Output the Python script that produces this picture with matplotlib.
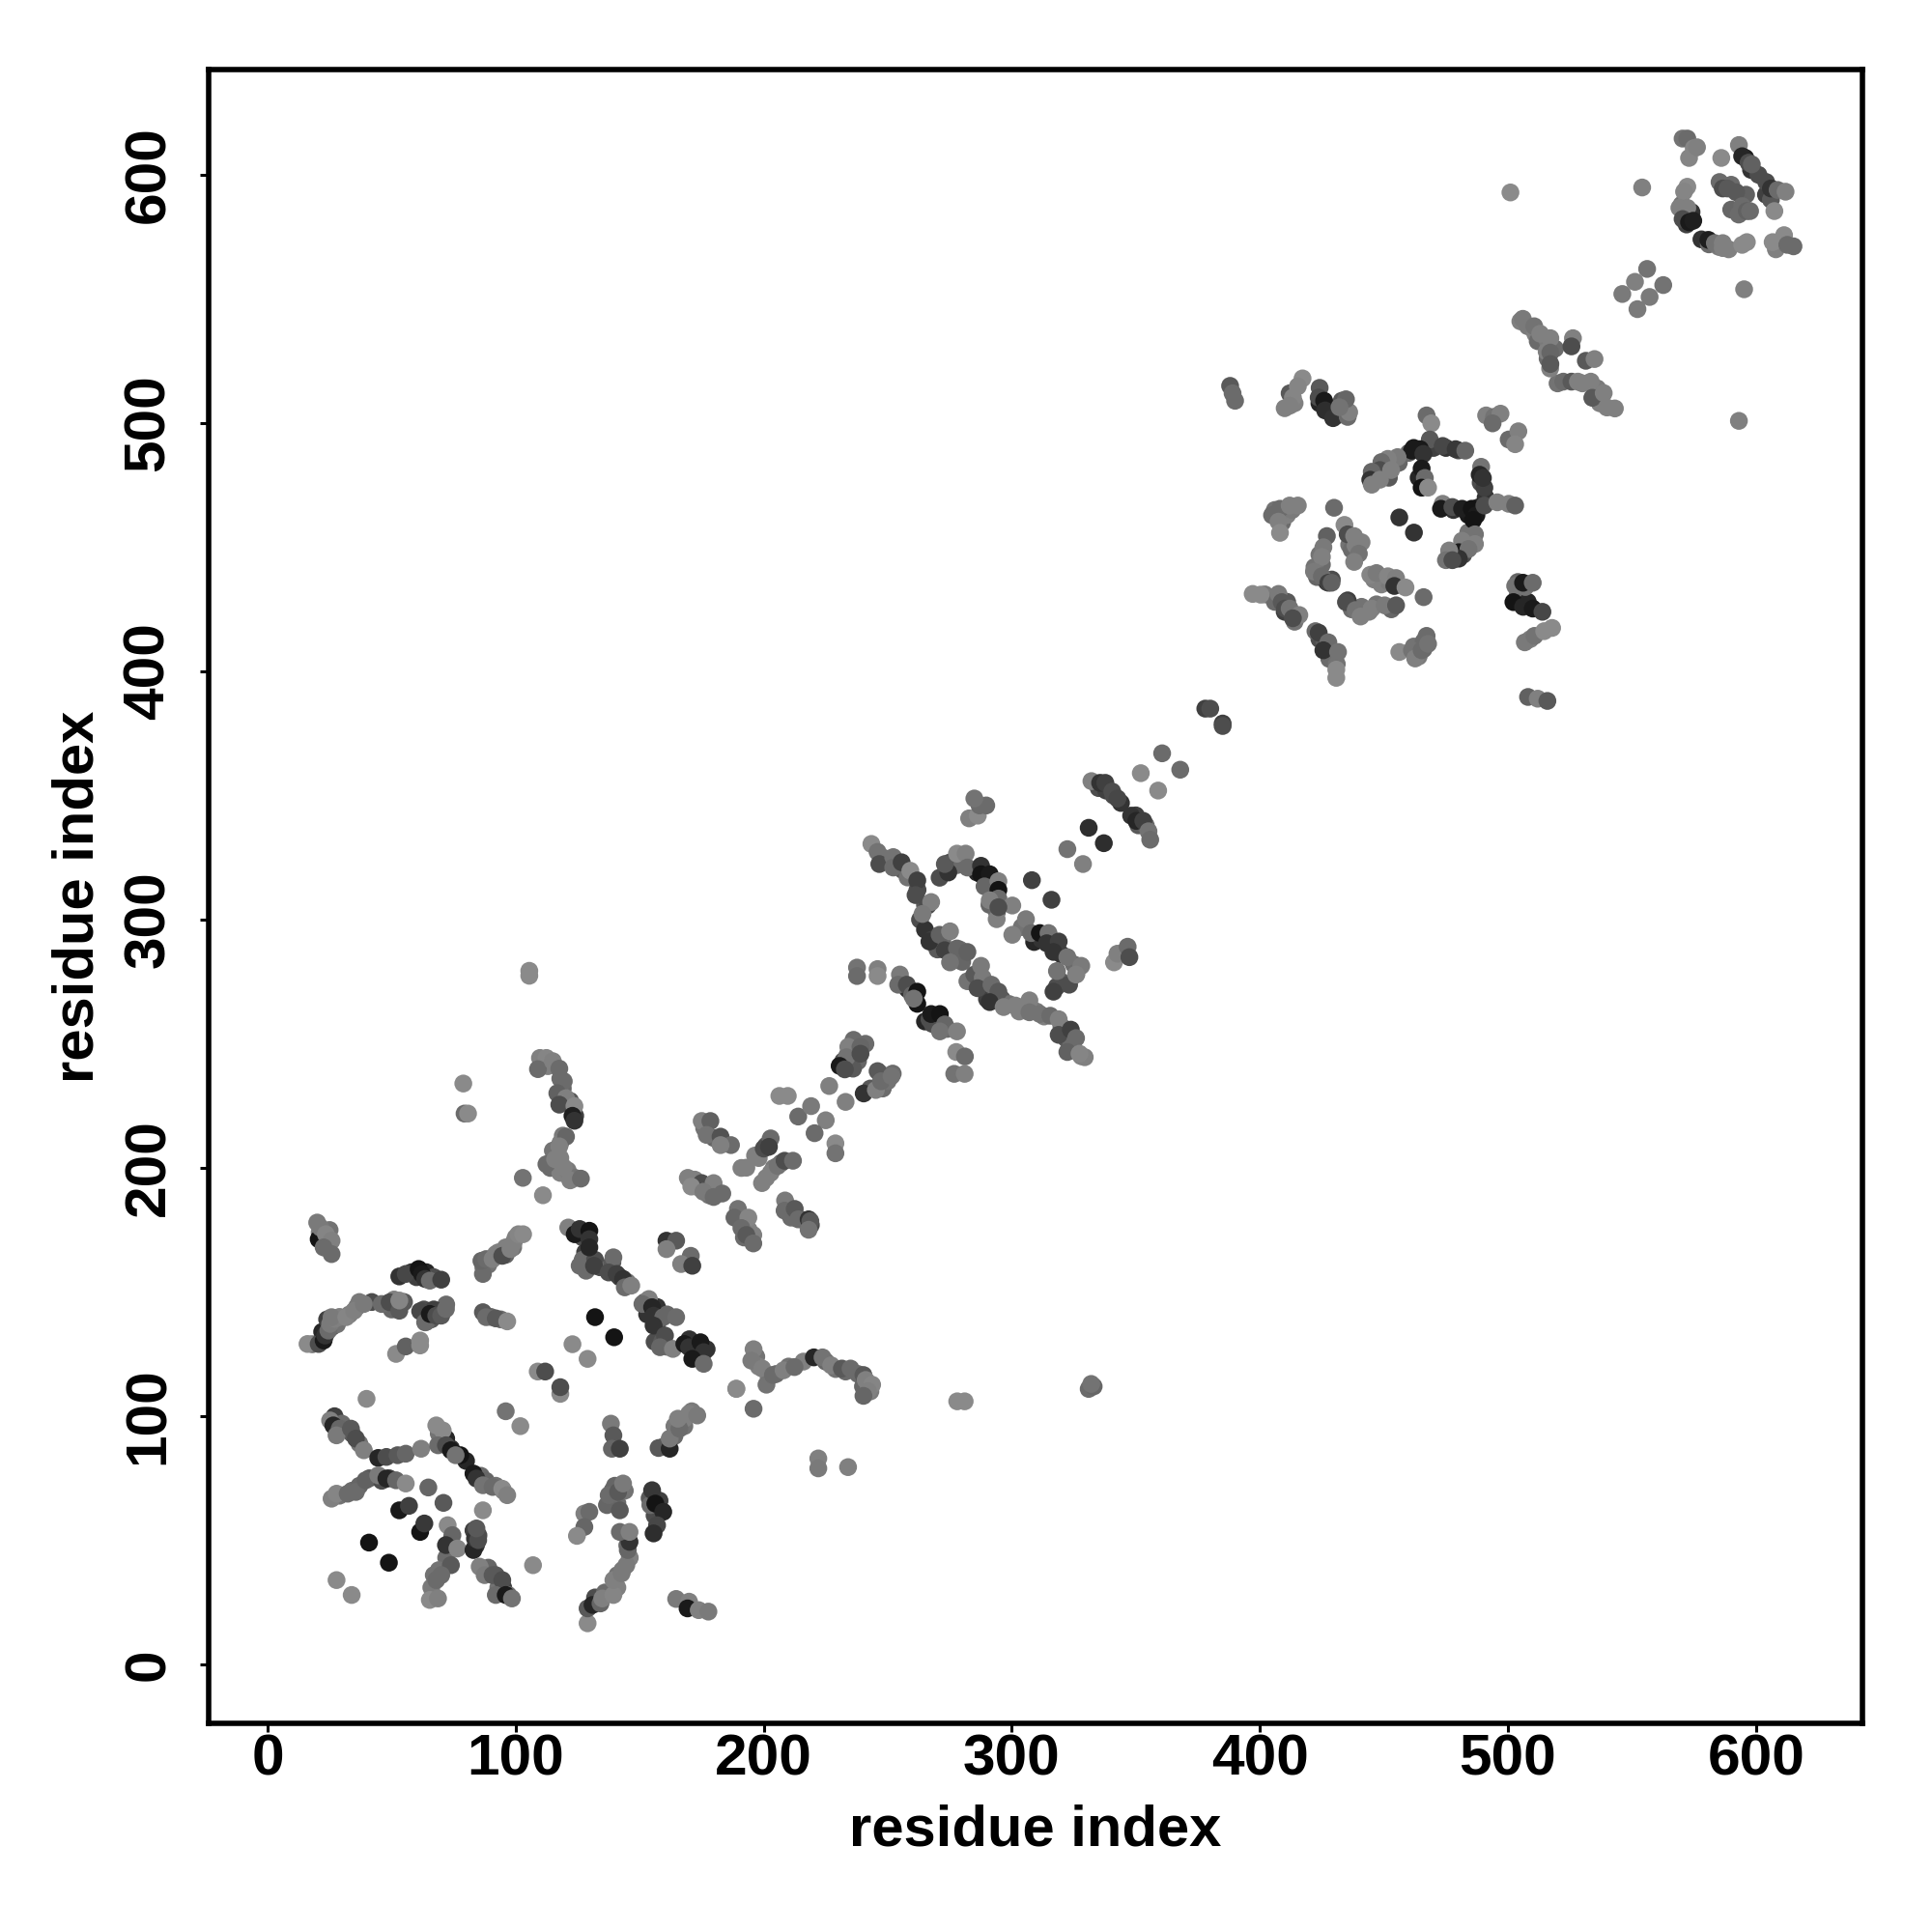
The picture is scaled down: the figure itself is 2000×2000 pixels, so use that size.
import matplotlib
matplotlib.use("Agg")
import matplotlib.pyplot as plt

# contacts, grouped by stretch of the map, in drawing order
# shade = grey level of each dot (0 black, 1 white)

# dots that mostly sit underneath the others in the crowded bands
under_x = [21, 24, 24, 25,
           58, 64, 67, 60,
           18, 22, 26, 28, 24, 29, 33, 36, 37, 42, 50, 55, 51,
           63, 66, 69, 72, 67, 64,
           87, 89, 93, 96, 96, 99, 100,
           90, 94,
           127, 128, 127, 132, 134, 138, 139, 142, 145,
           152, 157, 153, 157, 161, 156, 159, 161, 172, 170, 174, 177, 172,
           27, 30, 34, 37,
           29, 34, 37, 41, 46, 49,
           69, 72, 74, 80, 86, 88, 92, 95,
           74, 73, 72, 69, 67, 66,
           84, 85, 83,
           89, 92, 95, 97, 93,
           160, 164, 164, 168, 168, 171,
           139, 141, 144, 140,
           156, 158, 154,
           132, 136, 141, 141, 143, 146, 145,
           111, 113, 118, 119, 119, 122, 124, 119, 118, 115, 118, 114, 118, 121, 124,
           197, 198, 202, 205, 210, 216, 225, 229, 233, 238, 240, 243,
           176, 180, 191, 198, 201, 201, 204, 207, 172, 174, 177, 178, 190, 192, 192, 194, 210, 211, 216, 219,
           234, 237, 241, 238, 232, 236, 243, 248, 250, 247, 252,
           248, 256, 258, 262, 265, 263, 265, 268, 270, 272, 276, 279, 280,
           275, 278, 286, 290, 293, 291, 294,
           304, 309, 312, 318, 320, 325, 326, 320,
           284, 290, 293, 296, 299, 303, 310, 313, 320, 322, 325, 328, 324,
           258, 265, 268, 274,
           335, 338, 341, 344, 350, 351, 354,
           412, 414, 424, 428, 431, 433, 433,
           456, 460, 462, 470, 475, 480, 452, 447, 464,
           489, 491, 488, 484, 478,
           484, 483, 482, 478,
           409, 406, 411, 413,
           436, 437, 441,
           424, 425, 423, 427, 429, 422,
           449, 452, 446,
           437, 441, 444, 447, 453,
           402, 406, 410, 411, 414,
           424, 426, 429, 428, 431,
           462, 464, 466, 466,
           504, 504, 508, 507, 509,
           505, 508, 511, 512, 516, 516, 519, 520, 530, 536, 537, 535,
           574, 570, 572, 578, 581, 585, 589,
           598, 601, 596, 604, 606, 590, 592, 590, 593, 608]
under_y = [174, 170, 168, 175,
           158, 158, 156, 156,
           129, 134, 136, 137, 139, 140, 141, 144, 146, 146, 143, 146, 147,
           143, 139, 141, 145, 143, 138,
           160, 161, 166, 165, 168, 168, 172,
           140, 139,
           172, 166, 163, 163, 160, 160, 162, 156, 154,
           146, 144, 141, 137, 141, 130, 130, 128, 128, 131, 125, 127, 124,
           100, 97, 93, 89,
           68, 70, 72, 75, 74, 75,
           93, 91, 87, 82, 76, 74, 72, 70,
           50, 48, 43, 38, 36, 31,
           48, 52, 54,
           39, 36, 31, 28, 31,
           88, 92, 96, 96, 99, 102,
           70, 65, 70, 72,
           60, 66, 67,
           27, 29, 36, 31, 38, 43, 48,
           242, 241, 236, 232, 229, 227, 221, 213, 210, 207, 204, 200, 198, 199, 196,
           124, 120, 116, 117, 120, 122, 122, 119, 118, 117, 112, 110,
           216, 212, 200, 204, 209, 196, 200, 202, 194, 192, 192, 189, 180, 177, 172, 175, 184, 180, 179, 177,
           246, 246, 250, 243, 243, 240, 232, 232, 235, 238, 238,
           325, 320, 317, 312, 306, 300, 296, 292, 288, 291, 285, 288, 283,
           323, 322, 319, 316, 310, 306, 303,
           297, 291, 292, 288, 286, 282, 278, 275,
           275, 268, 268, 268, 266, 263, 263, 261, 257, 252, 248, 245, 250,
           272, 259, 258, 256,
           353, 352, 350, 347, 342, 338, 338,
           512, 508, 508, 505, 503, 505, 509,
           484, 488, 490, 490, 490, 489, 478, 480, 478,
           476, 470, 466, 463, 465,
           456, 452, 447, 446,
           460, 465, 463, 465,
           451, 449, 452,
           447, 443, 438, 436, 437, 442,
           435, 436, 437,
           425, 426, 424, 427, 425,
           431, 428, 424, 428, 420,
           413, 412, 408, 405, 403,
           410, 406, 412, 409,
           431, 436, 428, 434, 413,
           541, 539, 536, 533, 533, 526, 530, 516, 516, 514, 508, 511,
           585, 588, 580, 574, 572, 571, 570,
           602, 600, 592, 592, 590, 596, 593, 586, 584, 570]
under_shade = [.5, .42, .5, .45,
               .2, .15, .3, .25,
               .45, .15, .3, .45, .25, .5, .48, .45, .48, .3, .4, .35, .5,
               .3, .35, .3, .42, .25, .42,
               .42, .45, .5, .4, .5, .45, .5,
               .4, .42,
               .3, .25, .42, .3, .3, .42, .35, .25, .45,
               .42, .2, .2, .3, .4, .3, .35, .42, .15, .2, .15, .2, .35,
               .25, .42, .35, .45,
               .45, .42, .4, .35, .3, .25,
               .45, .15, .2, .15, .42, .4, .45, .5,
               .3, .35, .42, .45, .45, .48,
               .2, .3, .25,
               .4, .35, .25, .42, .45,
               .45, .42, .48, .45, .5, .48,
               .4, .42, .45, .4,
               .3, .25, .35,
               .3, .42, .45, .5, .48, .5, .42,
               .5, .5, .42, .4, .45, .35, .25, .48, .5, .45, .5, .42, .5, .48, .45,
               .45, .5, .48, .42, .45, .5, .4, .45, .42, .42, .4, .48,
               .45, .4, .5, .5, .35, .5, .48, .42, .5, .48, .42, .45, .42, .48, .42, .5, .45, .42, .35, .3,
               .45, .42, .42, .4, .3, .35, .35, .42, .45, .48, .42,
               .45, .35, .45, .3, .35, .3, .2, .25, .35, .4, .3, .45, .4,
               .25, .42, .15, .1, .3, .4, .42,
               .45, .15, .2, .15, .2, .42, .42, .35,
               .3, .25, .42, .35, .45, .5, .48, .5, .42, .35, .4, .5, .42,
               .2, .15, .3, .42,
               .3, .25, .3, .2, .25, .35, .4,
               .35, .5, .15, .25, .4, .42, .35,
               .4, .42, .1, .25, .2, .3, .35, .42, .15,
               .3, .2, .15, .1, .2,
               .45, .42, .3, .35,
               .42, .45, .5, .48,
               .45, .42, .5,
               .45, .42, .4, .2, .3, .45,
               .5, .48, .5,
               .42, .45, .5, .45, .4,
               .48, .42, .25, .35, .45,
               .3, .35, .25, .42, .45,
               .45, .48, .42, .42,
               .42, .4, .15, .45, .5,
               .5, .48, .5, .42, .48, .42, .42, .45, .5, .48, .5, .42,
               .2, .45, .25, .2, .42, .48, .5,
               .2, .3, .38, .25, .35, .42, .35, .4, .42, .5]

low_upper_x = [20.6, 20, 21.3, 23.5, 25.8, 22.6, 25.8,
               53.1, 55.7, 60.9, 62.2, 63.5, 65.4, 70,
               16.1, 20.6, 22.6, 23.2, 24.5, 25.2, 27.1, 25.8, 31.7, 34.9, 38.8, 46, 49.2, 53.1, 53.1,
               61.5, 63.5, 65.4, 68, 70, 71.9,
               51.8, 55.7, 61.5, 61.5,
               86.8, 86.2, 88.1, 90.7, 92, 94.6, 97.9, 99.2, 101.1, 103,
               86.8, 88.1, 92, 96.6,
               108.9, 111.9, 118, 118,
               121.2, 123.8, 125.8, 129.7, 129.7, 129.7, 125.8, 128.4, 131.6, 139.4, 137.5, 140.7, 143.3, 144, 146.6,
               160.8, 164.7, 160.8, 170.6, 166.7, 171.2,
               153.7, 151.1, 155, 155.6, 159.5, 164.7, 155.6, 160.2, 158.2, 163.4, 168, 169.9, 174.5, 175.8, 171.2, 175.8,
               132, 139.7, 122.9, 129, 189, 195.9]
low_upper_y = [171.3, 178, 176, 173.3, 170.7, 168, 165.3,
               156.3, 157.3, 159.3, 157.3, 155.3, 154.6, 155,
               129.1, 129.1, 130.5, 132.5, 134.5, 137.2, 139.2, 139.9, 139.9, 142.5, 145.2, 145.2, 145.9, 142.5, 146.6,
               142.3, 137.8, 141.2, 140.5, 140.5, 143.2,
               125.1, 128.1, 128.5, 130.5,
               157.3, 162.6, 163.3, 163.3, 165.3, 164.6, 167.3, 170, 173.3, 173.3,
               141.9, 139.9, 139.4, 138.2,
               118, 118, 109, 111.7,
               176, 173.3, 175.4, 174.7, 171.3, 168, 160.6, 158.6, 160.6, 164, 157.9, 157.3, 155.3, 151.9, 152.6,
               170.7, 170.7, 167.3, 164.6, 161.3, 160.6,
               147.2, 145.2, 143.9, 140.5, 139.9, 139.9, 136.5, 132.5, 127.8, 127.1, 129.1, 127.8, 129.8, 125.8, 123.1, 121.1,
               139.9, 131.8, 129, 123.1, 111, 103]
low_upper_shade = [.08, .48, .48, .52, .5, .42, .42,
                   .2, .28, .08, .1, .2, .42, .25,
                   .54, .3, .1, .2, .42, .48, .5, .48, .52, .5, .48, .42, .3, .35, .52,
                   .28, .42, .1, .3, .35, .42,
                   .54, .38, .54, .54,
                   .42, .4, .42, .5, .5, .3, .5, .5, .52, .54,
                   .35, .42, .35, .54,
                   .54, .3, .54, .3,
                   .5, .1, .2, .08, .2, .15, .42, .42, .25, .42, .3, .25, .2, .42, .5,
                   .2, .35, .5, .42, .5, .25,
                   .5, .42, .15, .2, .4, .42, .2, .3, .4, .5, .1, .2, .1, .2, .1, .42,
                   .08, .08, .54, .54, .54, .42]

low_lower_x = [39.9,
               25.2, 26.5, 29.1, 27.8, 33.6, 35.6, 38.8,
               44.6, 47.9, 52.4, 55.7, 61.9,
               25.8, 27.8, 32.3, 35.6, 39.5, 44.6, 47.9, 51.8, 55.7,
               64.8, 70.9, 86.8,
               53.1, 57, 61.5, 63.2,
               40.9, 48.9, 27.8, 33.9, 107, 96, 101.9,
               68, 70.6, 68.7, 71.9, 73.9, 77.7, 75.8, 83, 84.2, 86.8, 90.7, 94.6, 96.6,
               72.6, 74.5, 71.9, 76.5, 73.9, 70, 68, 65.4, 68.7,
               83, 83.6, 84.9, 84.2,
               85.5, 87.5, 90.7, 94.6, 92, 96, 98.5,
               138.4, 139.4, 138.8, 142,
               157.6, 162.1, 162.1, 166, 165.4, 169.9, 173.2,
               136.8, 137.5, 141.3, 142, 143.3,
               154.3, 155, 156.3, 159.5, 157, 155.6,
               127.7, 129.7, 127.7, 124.7,
               129, 129, 131, 134.2, 134.9, 139.4, 139.4, 142.7, 144.6, 145.2, 145.9, 142, 145.9,
               164.7, 169.9, 169.3, 173.8, 177.7]
low_lower_y = [107,
               98.3, 96.3, 95, 92.3, 95, 91, 86.3,
               83.2, 83.6, 84.3, 84.9, 86.9,
               66.8, 68.8, 68.8, 69.5, 74.2, 76.2, 74.9, 74.2, 72.9,
               71.3, 65.1, 62.1,
               62.1, 63.9, 53.4, 56.8,
               49.1, 41, 34, 28, 40, 102, 96,
               96.3, 94.3, 88.3, 88.3, 86.3, 84.3, 84.3, 76.9, 74.9, 72.2, 71.5, 70.8, 68.2,
               56.1, 52.1, 48.1, 46.7, 40, 36, 34, 26, 26.6,
               46.1, 50.7, 50.1, 54.8,
               39.4, 36, 36, 34, 28, 28, 26.6,
               97, 92.3, 86.9, 86.9,
               87.2, 86.9, 91, 95, 99, 101, 100.3,
               64.2, 68.2, 69.5, 62.1, 72.9,
               64.2, 70.2, 64.8, 61.5, 56.1, 52.8,
               60.8, 61.5, 55.4, 51.8,
               16.6, 22.6, 24, 24.6, 26.6, 28, 34, 36.7, 40, 46.1, 49.4, 53.4, 53.4,
               26.4, 25.3, 22.6, 21.9, 21.3]
low_lower_shade = [.54,
                   .5, .15, .4, .48, .35, .3, .5,
                   .15, .3, .35, .4, .5,
                   .5, .52, .42, .42, .38, .48, .15, .4, .54,
                   .4, .35, .54,
                   .1, .25, .08, .22,
                   .08, .08, .54, .54, .54, .45, .54,
                   .54, .54, .42, .3, .1, .08, .45, .1, .2, .45, .42, .54, .5,
                   .54, .4, .2, .52, .35, .42, .42, .54, .5,
                   .15, .2, .3, .35,
                   .5, .48, .35, .3, .42, .1, .45,
                   .48, .35, .4, .25,
                   .35, .15, .48, .42, .5, .5, .48,
                   .4, .42, .35, .35, .48,
                   .42, .22, .08, .15, .28, .18,
                   .5, .42, .4, .54,
                   .54, .35, .15, .4, .5, .52, .5, .48, .48, .4, .2, .42, .5,
                   .48, .5, .1, .5, .48]

mid_x = [109.8, 112.4, 109, 115, 117.6, 119.4, 116.8, 120.3, 117.6, 123.7, 122.9, 123.7, 120.3, 117.6, 112.4, 115.9, 119.4, 122, 126.3,
         78.9, 79.4, 80.8, 102.9, 111, 105.5, 105.5,
         195.9, 195, 199.4, 201.1, 203.7, 208, 212.4, 220.2, 223.7, 227.2, 231.5, 235, 240.2, 241.1, 243.7, 242, 240.2,
         188.9, 222, 222, 234, 278, 281, 331, 333, 332,
         175, 178.5, 177, 182.6, 186.8, 182.6,
         193, 196.5, 200, 202.8, 202.1,
         199.3, 202.8, 205.6, 208.4, 211.8,
         169.4, 172.2, 175, 170.8, 179.8, 175.7, 179.8, 183.3,
         189.6, 188.2, 193.8, 191, 195.8, 193, 195.8,
         208.6, 208.4, 212.5, 213.9, 218.1, 218.8, 218.1,
         206.3, 209.7, 213.9, 219.1, 225, 220.5, 228.9, 228.9, 226.4, 233]
mid_y = [244.3, 244.3, 239.8, 243, 240, 234.9, 230.1, 228.1, 225.5, 224.9, 221, 219, 212.6, 208.7, 201.5, 203.5, 200.2, 195, 195.7,
         234, 221.9, 221.9, 196, 189, 279.4, 277.4,
         127, 122.4, 119.2, 112.7, 116.6, 118.5, 119.8, 123.7, 123.7, 120.5, 119.2, 119.2, 116.6, 114.6, 112.7, 110.1, 108.2,
         111.1, 83, 79, 79.5, 106, 106, 111, 112, 113,
         218.9, 218.9, 213.3, 212.6, 209.2, 209.2,
         200.1, 205, 207.8, 211.9, 208.5,
         193.9, 198, 200.8, 202.9, 202.9,
         196, 195.3, 193.9, 192.5, 193.9, 190.4, 188.3, 189.7,
         183.5, 180, 180, 175.8, 173, 173, 169.6,
         186.9, 182.8, 183.5, 179.3, 179.3, 178.6, 175.1,
         229, 229, 220.7, 224.9, 219.2, 214, 209.9, 205.9, 233, 226.6]
mid_shade = [.5, .52, .42, .5, .42, .42, .38, .5, .3, .54, .12, .2, .4, .5, .42, .5, .5, .5, .42,
             .54, .42, .54, .45, .54, .54, .54,
             .5, .48, .5, .45, .42, .5, .42, .15, .45, .5, .35, .42, .35, .5, .52, .5, .4,
             .54, .5, .48, .5, .54, .54, .42, .4, .45,
             .5, .38, .45, .32, .42, .5,
             .5, .5, .3, .42, .25,
             .5, .5, .45, .3, .42,
             .5, .5, .3, .54, .5, .48, .42, .42,
             .45, .4, .52, .42, .5, .35, .42,
             .48, .42, .35, .42, .2, .35, .45,
             .54, .54, .42, .48, .5, .42, .54, .45, .5, .5]

ring_x = [236.2, 234.1, 239, 233.4, 239, 230.6, 232.7, 240.3, 245.2, 245.9, 247.3, 251.5,
          237.6, 237.6, 245.9, 245.9,
          254.9, 254.2, 257.7, 259.8, 261.9, 261.9, 260.5,
          266.8, 267.5, 271, 273, 271, 277.9,
          277.6, 281.1, 276.8, 281,
          243.4, 245.9, 246.6, 252.2, 252.2, 255.6, 259.1, 261.9, 261.2, 266.1, 267.5, 264, 266.8, 270.9, 273, 275.1, 277.9, 282.1, 275.1,
          282.8, 286.3, 287, 289.7, 284.9,
          270.9, 274.4, 273, 277.9, 281.4, 282.1, 287.6, 287.6, 291.1, 289, 294.6, 294.6, 294.6, 291.1, 293.9, 300.2, 294.6,
          308.1, 316, 322.4, 328.7, 331, 337.1,
          300.2, 305.7, 307.8, 311.3, 314.8, 314.1, 318.9, 316.8, 322.4, 328, 323.1, 318.2, 316.8, 318.2, 325.9,
          282.1, 284.9, 287.6, 288.3, 286.2, 291.8, 294.6, 291.1, 296.7, 301.5, 307.1, 307.1, 311.3, 315.5, 318.9, 318.9, 323.8, 325.9, 322.4, 329.4, 327.3,
          341.2, 342.6, 346.7, 347.4,
          332.1, 335.6, 337.7, 340.5, 342.6, 348.1, 350.2, 353, 355.1, 355.8,
          352, 367.9, 359, 360.6, 378, 380, 385, 385]
ring_y = [251.6, 248.8, 248.8, 244.6, 246, 241.1, 239.7, 230, 231.4, 239, 234.9, 237,
          280.7, 277.3, 280.1, 277.3,
          277.9, 273.8, 273.8, 269.6, 271, 266.1, 268.2,
          259.9, 262, 262, 257.8, 255, 255,
          246.7, 244.9, 237.9, 237.9,
          330.5, 327.3, 322.4, 325.2, 321, 323.1, 319.7, 315.8, 309.9, 305.7, 307.1, 302.3, 291.2, 293.9, 287.7, 295.3, 288.4, 287, 282.8,
          340.8, 341.9, 346, 346, 348.8,
          316.9, 319, 322.4, 326.6, 326.6, 321, 321.7, 318.3, 318.3, 313.4, 315.5, 312, 308.5, 307.8, 300.2, 305.7, 305,
          315.9, 308, 328.4, 322.4, 337, 330.8,
          293.9, 300.2, 294.6, 294.6, 294.6, 290.5, 291.2, 287, 284.9, 281.4, 273.8, 273.1, 271, 279.3, 277.9,
          275.2, 277.9, 281.4, 276.6, 272.4, 273.8, 271, 266.8, 264.8, 265.4, 267.5, 262.7, 262, 261.3, 259.9, 253.6, 255.7, 252.3, 246.7, 244.6, 246,
          282.8, 286.3, 289.1, 284.9,
          355.8, 355.1, 355.1, 351.6, 348.8, 341.9, 339.8, 339.8, 335.6, 332.2,
          359, 360.4, 352, 367, 385, 385, 379, 378]
ring_shade = [.42, .5, .4, .45, .3, .1, .3, .2, .5, .35, .42, .45,
              .45, .42, .5, .54,
              .48, .42, .3, .4, .08, .08, .45,
              .3, .1, .08, .4, .45, .5,
              .54, .42, .45, .5,
              .54, .45, .3, .45, .42, .25, .54, .25, .3, .3, .5, .48, .2, .38, .25, .5, .4, .38, .45,
              .5, .54, .42, .42, .45,
              .3, .2, .35, .54, .5, .42, .2, .08, .1, .4, .5, .08, .42, .5, .5, .5, .3,
              .25, .25, .45, .5, .18, .18,
              .5, .48, .42, .08, .45, .2, .25, .2, .45, .48, .3, .3, .25, .45, .5,
              .45, .35, .48, .48, .3, .42, .35, .2, .5, .5, .5, .45, .45, .42, .5, .3, .25, .42, .38, .5, .52,
              .54, .5, .42, .3,
              .5, .2, .25, .3, .28, .2, .15, .25, .45, .42,
              .54, .42, .54, .42, .25, .3, .25, .3]

high_x = [388, 389, 390,
          417.2, 415.3, 413.3, 412, 410,
          424.1, 423.7, 425.9, 426.3, 429.5, 435.4, 436, 434.7, 432.1,
          467.2, 469.1, 468.5, 473.7, 478.9, 482.8, 464.6, 461.3, 465.9,
          455.5, 451.6, 449, 448.4, 452.9, 445.1, 444.5, 448.4, 445.1,
          465.2, 466.5, 465.2, 467.8,
          489.2, 488.6, 490.5, 489.9,
          473.7, 473, 477.6, 481.5, 485.4, 487.3, 486, 490.5, 495.7, 500.3, 502.9,
          486.7, 486.7, 481.5, 480.2, 484.1, 480.2, 476.3, 475, 477.6,
          491.2, 494.4, 497, 493.8, 500.3, 504.2, 502.9,
          456.2, 462.1, 429.9, 466,
          407.5, 404.9, 408.1, 412, 415.3, 407.5, 408.1,
          434.1, 435.4, 438, 438.6, 439.9, 438,
          427, 425.6, 425, 421.8, 425, 427.6, 428.9,
          444.5, 447, 451.6, 454.9, 454.2, 458.7,
          435.4, 434.7, 438.6, 440.6, 445.1, 450.3, 454.9,
          397.1, 400.3, 407.5, 408.8, 410.1, 412, 415.9, 413.3,
          422.4, 423.7, 427.6, 425.6, 431.5, 430.8, 430.8,
          456.2, 461.3, 462.6, 465.2, 467.2, 467.8,
          502.9, 506.1, 510, 502.2, 506.1, 510, 513.9,
          506.8, 510.7, 514.6, 517.8,
          508.1, 512, 515.9]
high_y = [515, 512, 509,
          518, 514.8, 510.3, 507, 506,
          514.2, 510.3, 509, 505.1, 502, 502.5, 504.4, 509.6, 506.4,
          503.1, 499.9, 493.4, 490.8, 489.5, 488.9, 489.5, 488.9, 487.6,
          486.3, 485.6, 484.3, 481.1, 481.1, 480.4, 477.2, 477.2, 475.2,
          481.7, 477.9, 474, 474,
          482.4, 479.2, 474, 477.9,
          467.5, 465.5, 466.2, 465.5, 465.5, 462.9, 461, 466.8, 468.1, 467.5, 466.8,
          455.2, 451.3, 452.6, 448, 449.3, 445.4, 448.7, 444.8, 444.8,
          503.1, 502.5, 503.8, 499.9, 493.4, 496.7, 491.5,
          462, 455.9, 465.9, 429.9,
          463.6, 462.9, 465.5, 466.8, 466.8, 460.3, 455.8,
          459, 455.2, 454.5, 450.6, 447.4, 444.1,
          454.5, 450, 446.1, 440.2, 438.3, 435.7, 435.7,
          438.9, 439.6, 438.3, 437.6, 434.4, 433.8,
          428.6, 427.9, 424.7, 422.1, 425.3, 426.6, 426.6,
          431.2, 430.9, 431.2, 427.9, 425.3, 425.3, 422.7, 421.4,
          416.2, 415.6, 411.7, 408.5, 407.8, 400.7, 397.4,
          407.8, 408.5, 405.2, 408.5, 414.3, 411.1,
          434.4, 435.7, 435.7, 427.9, 426, 425.3, 424,
          411.7, 414.3, 416.2, 417.5,
          389.7, 389, 388.1]
high_shade = [.35, .42, .42,
              .54, .52, .52, .5, .5,
              .35, .3, .1, .18, .2, .42, .5, .4, .45,
              .42, .54, .35, .28, .22, .4, .1, .1, .2,
              .48, .5, .42, .3, .5, .4, .2, .5, .5,
              .1, .42, .08, .54,
              .45, .15, .25, .2,
              .5, .1, .3, .12, .08, .1, .08, .3, .5, .5, .38,
              .45, .5, .5, .1, .45, .2, .5, .45, .3,
              .5, .45, .5, .42, .42, .5, .52,
              .2, .2, .42, .42,
              .48, .42, .42, .5, .5, .5, .54,
              .54, .3, .5, .5, .45, .5,
              .38, .48, .5, .48, .42, .25, .38,
              .52, .48, .52, .5, .2, .54,
              .25, .3, .45, .5, .5, .48, .35,
              .54, .54, .48, .35, .3, .45, .5, .3,
              .42, .25, .42, .2, .45, .54, .54,
              .54, .45, .5, .42, .42, .45,
              .45, .1, .42, .08, .15, .1, .28,
              .48, .45, .54, .54,
              .38, .5, .35]

top_x = [506, 510.6, 513, 515.6, 517,
         517.1, 517.1, 517.1, 526.2, 525.6, 531.4, 534.9, 522.3, 525.6, 528.2, 533.4, 534, 538.6, 539.9, 543.1,
         556.1, 551.2, 546.1, 562.6, 557.1, 552.2,
         554.1, 595.2, 593.1, 501,
         570.4, 572.3, 574.9, 573, 576.2,
         586, 593.1, 595.7, 594.4, 597, 598.3,
         585.3, 586.6, 588.5,
         594.4, 596.3, 597.6,
         604.1, 606, 608.7, 611.9, 607.4,
         572.3, 571, 569.1, 572.3, 570.4, 573, 574.7,
         580.8, 583.4, 586.6, 586.6, 594.4, 596.3,
         606.7, 611.3, 612.6, 615.1]
top_y = [542, 539, 536, 528.8, 522,
         534.2, 528.4, 523.8, 534.2, 530.9, 525.1, 525.8, 516.7, 516.7, 516.7, 516.7, 510.2, 512.1, 506.3, 505.9,
         562.1, 556.9, 552, 555.6, 550.8, 545.9,
         594.9, 553.9, 500.9, 592.9,
         614.6, 614.6, 610.7, 606.8, 611.1,
         606.8, 612, 606.8, 607.5, 604.9, 604.2,
         597.1, 594.5, 594.5,
         587.4, 585.4, 585.4,
         597.1, 594.5, 593.9, 593.2, 585.4,
         595.2, 593.2, 586.7, 586.7, 582.2, 580.9, 581.5,
         573.8, 572.5, 572.5, 570.5, 571.8, 572.9,
         572.9, 575.7, 571.8, 571.2]
top_shade = [.48, .45, .5, .5, .5,
             .5, .4, .35, .5, .3, .35, .5, .42, .35, .5, .5, .35, .5, .5, .5,
             .45, .5, .48, .45, .48, .48,
             .5, .5, .5, .54,
             .45, .42, .52, .52, .5,
             .54, .5, .1, .15, .3, .38,
             .42, .3, .35,
             .42, .38, .42,
             .3, .2, .42, .5, .54,
             .54, .52, .5, .5, .3, .1, .12,
             .12, .45, .5, .5, .54, .54,
             .54, .54, .42, .42]

regions = [
    (under_x, under_y, under_shade),
    (low_upper_x, low_upper_y, low_upper_shade),
    (low_lower_x, low_lower_y, low_lower_shade),
    (mid_x, mid_y, mid_shade),
    (ring_x, ring_y, ring_shade),
    (high_x, high_y, high_shade),
    (top_x, top_y, top_shade),
]

tick_vals = [0, 100, 200, 300, 400, 500, 600]

plt.rcParams['font.family'] = ['Liberation Sans', 'DejaVu Sans']

fig = plt.figure(figsize=(20, 20), dpi=100)
ax = fig.add_axes([0.108, 0.108, 0.856, 0.856])

for xs, ys, shade in regions:
    ax.scatter(xs, ys, s=177, c=[str(g) for g in shade], linewidths=0)

ax.set_xlim(-23.75, 642.9)
ax.set_ylim(-23.7, 642.4)
ax.set_xticks(tick_vals)
ax.set_yticks(tick_vals)
ax.set_yticklabels(tick_vals, rotation=90, va='center')
ax.tick_params(length=6.5, width=2.2, labelsize=43.5)
ax.tick_params(axis='x', pad=1)
ax.tick_params(axis='y', pad=18)
for lab in ax.get_xticklabels() + ax.get_yticklabels():
    lab.set_fontweight('bold')
ax.set_xlabel('residue index', fontsize=43, fontweight='bold', labelpad=13)
ax.set_ylabel('residue index', fontsize=43, fontweight='bold', labelpad=13)
for spine in ax.spines.values():
    spine.set_linewidth(4.0)

fig.savefig('out.png', dpi=100)
